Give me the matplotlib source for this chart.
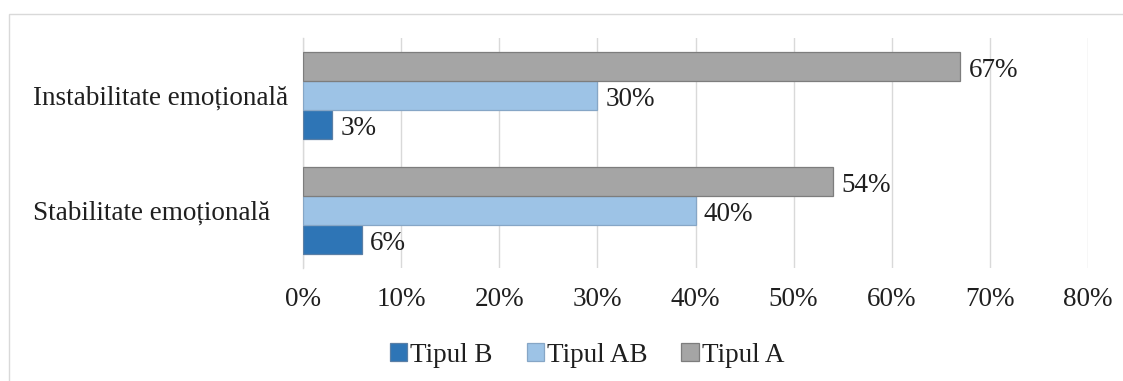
import matplotlib
matplotlib.use("Agg")
import matplotlib.pyplot as plt
from matplotlib.patches import Rectangle
from matplotlib.ticker import FuncFormatter
import numpy as np

categories = ["Stabilitate emoțională", "Instabilitate emoțională"]
series_names = ["Tipul B", "Tipul AB", "Tipul A"]
tipul_b = [6, 3]
tipul_ab = [40, 30]
tipul_a = [54, 67]
x_ticks = [0, 10, 20, 30, 40, 50, 60, 70, 80]

colors = ["#2E75B6", "#9DC3E6", "#A5A5A5"]
edges = ["#5a7fa6", "#86a6c6", "#7d7d7d"]

plt.rcParams["font.family"] = ["Liberation Serif", "DejaVu Serif"]
fs = 19.5
txt = "#1f1f1f"

fig = plt.figure(figsize=(11.23, 3.81), dpi=100)
ax = fig.add_axes([303 / 1123, 1 - 268 / 381, (1088 - 303) / 1123, (268 - 38) / 381])

# chart frame
fig.patches.append(Rectangle((9 / 1123, -0.1), 1.2, 1 - 14 / 381 + 0.1,
                             transform=fig.transFigure, fill=False,
                             edgecolor="#d9d9d9", linewidth=1.0))

y = np.arange(len(categories))
h = 0.25
offsets = [-h, 0, h]
for vals, name, c, ec, off in zip([tipul_b, tipul_ab, tipul_a], series_names,
                                   colors, edges, offsets):
    bars = ax.barh(y + off, vals, height=h, color=c, edgecolor=ec,
                   linewidth=0.9, label=name, zorder=3)
    for b, v in zip(bars, vals):
        ax.annotate(f"{v}%", (b.get_width(), b.get_y() + b.get_height() / 2),
                    xytext=(6, -3), textcoords="offset points",
                    va="center", ha="left", fontsize=fs, color=txt)

ax.set_xlim(0, 80)
ax.set_ylim(-0.5, 1.5)
ax.set_xticks(x_ticks)
ax.xaxis.set_major_formatter(FuncFormatter(lambda v, p: f"{int(v)}%"))
ax.set_yticks(y)
ax.set_yticklabels(categories, ha="left")
ax.tick_params(axis="both", length=0, labelsize=fs, colors=txt)
ax.tick_params(axis="x", pad=14)
ax.tick_params(axis="y", pad=270 * 0.72)
ax.grid(axis="x", color="#d9d9d9", linewidth=1.0, zorder=0)
for s in ["top", "right", "bottom"]:
    ax.spines[s].set_visible(False)
ax.spines["left"].set_color("#d9d9d9")
ax.spines["left"].set_linewidth(1.0)

handles, labels = ax.get_legend_handles_labels()
fig.legend(handles, labels, loc="center", bbox_to_anchor=(587 / 1123, 1 - 355 / 381),
           ncol=3, frameon=False, fontsize=fs, handlelength=0.65, handleheight=0.65,
           handletextpad=0.1, columnspacing=1.25, labelcolor=txt)

fig.savefig("out.png", dpi=100, facecolor="white")
